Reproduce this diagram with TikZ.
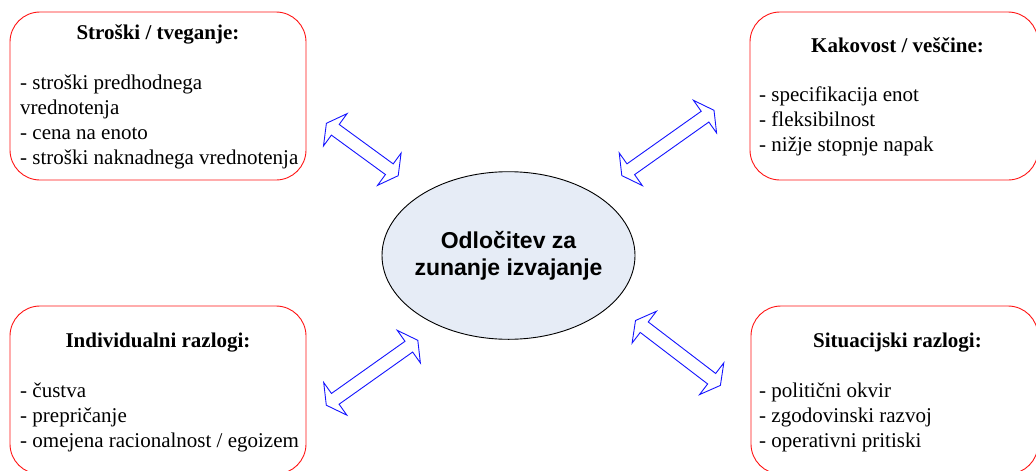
\documentclass[tikz,border=0pt]{standalone}
\usepackage{fontspec}
\setmainfont{Liberation Serif}
\newfontfamily\arialfont{Liberation Sans}
\usetikzlibrary{calc,shapes.geometric}
\definecolor{boxred}{RGB}{255,20,20}
\definecolor{arrblue}{RGB}{20,20,255}
\definecolor{ellfill}{RGB}{230,236,246}
\newcommand\dblarrow[2]{%
  \coordinate (h1) at ($(#1)!11pt!(#2)$);
  \coordinate (h2) at ($(#2)!11pt!(#1)$);
  \draw[blockarrow] (#1)
    -- ($(h1)!20pt!90:(#2)$) -- ($(h1)!6.6pt!90:(#2)$)
    -- ($(h2)!6.6pt!-90:(#1)$) -- ($(h2)!20pt!-90:(#1)$)
    -- (#2)
    -- ($(h2)!20pt!90:(#1)$) -- ($(h2)!6.6pt!90:(#1)$)
    -- ($(h1)!6.6pt!-90:(#2)$) -- ($(h1)!20pt!-90:(#2)$)
    -- cycle;}
\begin{document}
\begin{tikzpicture}[x=1pt,y=-1pt,
  infobox/.style={draw=boxred, line width=0.9pt, rounded corners=30pt, inner sep=0pt, outer sep=0pt},
  boxtitle/.style={anchor=base, inner sep=0pt, font=\fontsize{21}{25}\selectfont\bfseries},
  boxbody/.style={anchor=base west, inner sep=0pt, align=left, font=\fontsize{21}{25}\selectfont},
  blockarrow/.style={draw=arrblue, fill=white, line width=0.9pt, line join=miter},
  decision/.style={ellipse, draw=black, line width=0.9pt, fill=ellfill, inner sep=0pt,
    minimum width=253pt, minimum height=167.6pt},
  dectext/.style={anchor=base, inner sep=0pt, align=center,
    font=\arialfont\bfseries\fontsize{23}{27.4}\selectfont}]
\useasboundingbox (0,0) rectangle (1036,471);
\clip (0,0) rectangle (1036,471);
% boxes
\node[infobox, minimum width=296pt, minimum height=168pt] (costs) at (158,96) {};
\node[infobox, minimum width=288pt, minimum height=168pt] (quality) at (894,96) {};
\node[infobox, minimum width=296pt, minimum height=168pt] (indiv) at (158,390) {};
\node[infobox, minimum width=287pt, minimum height=168pt] (situ) at (894.5,390) {};
% texts (multi-line nodes: base = last line's baseline)
\node[boxtitle] (costsT) at (158,39) {Stroški / tveganje:};
\node[boxbody] (costsB) at (20,164) {- stroški predhodnega\\vrednotenja\\- cena na enoto\\- stroški naknadnega vrednotenja};
\node[boxtitle] (qualityT) at (897.5,52) {Kakovost / veščine:};
\node[boxbody] (qualityB) at (759,151) {- specifikacija enot\\- fleksibilnost\\- nižje stopnje napak};
\node[boxtitle] (indivT) at (158,347) {Individualni razlogi:};
\node[boxbody] (indivB) at (20,447) {- čustva\\- prepričanje\\- omejena racionalnost / egoizem};
\node[boxtitle] (situT) at (897.5,347) {Situacijski razlogi:};
\node[boxbody] (situB) at (759,447) {- politični okvir\\- zgodovinski razvoj\\- operativni pritiski};
% centre
\node[decision] (dec) at (508.5,255.5) {};
\node[dectext] (decT) at (508.5,275.7) {Odločitev za\\zunanje izvajanje};
% arrow ends
\coordinate (a1s) at (326.4,123.3);
\coordinate (a1e) at (398.2,175.7);
\coordinate (a2s) at (621.8,175.6);
\coordinate (a2e) at (714,110.3);
\coordinate (a3s) at (326.3,405.2);
\coordinate (a3e) at (417.8,340.3);
\coordinate (a4s) at (635.5,320.5);
\coordinate (a4e) at (720.4,385.4);
\dblarrow{a1s}{a1e}
\dblarrow{a2s}{a2e}
\dblarrow{a3s}{a3e}
\dblarrow{a4s}{a4e}
\end{tikzpicture}
\end{document}
